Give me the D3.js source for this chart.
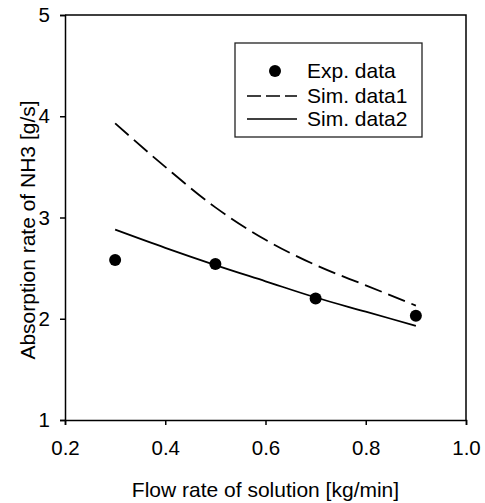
<!DOCTYPE html>
<html>
<head>
<meta charset="utf-8">
<script src="https://cdn.jsdelivr.net/npm/d3@7"></script>
<style>
  body { margin: 0; background: #fff; }
  svg { font-family: "Liberation Sans", Arial, sans-serif; }
</style>
</head>
<body>
<svg width="485" height="503"></svg>
<script>
// data
const expFlow = [0.3, 0.5, 0.7, 0.9];
const expRate = [2.58, 2.54, 2.20, 2.03];

const simFlow = [0.3, 0.4, 0.5, 0.6, 0.7, 0.8, 0.9];
const sim1 = [3.93, 3.50, 3.10, 2.78, 2.53, 2.33, 2.13];
const sim2 = [2.88, 2.70, 2.53, 2.37, 2.21, 2.07, 1.93];

const xTicks = [0.2, 0.4, 0.6, 0.8, 1.0];
const yTicks = [1, 2, 3, 4, 5];
const legendLabels = ['Exp. data', 'Sim. data1', 'Sim. data2'];

const svg = d3.select('svg');
const margin = { top: 15, right: 19, bottom: 83, left: 65 };
const W = 485, H = 503;

const x = d3.scaleLinear().domain([0.2, 1.0]).range([margin.left, W - margin.right]);
const y = d3.scaleLinear().domain([1, 5]).range([H - margin.bottom, margin.top]);

// frame (top + right)
svg.append('path')
    .attr('d', `M${x(0.2)},${y(5)}H${x(1.0)}V${y(1)}`)
    .attr('fill', 'none').attr('stroke', '#000').attr('stroke-width', 1.5);

const xAxis = svg.append('g')
    .attr('transform', `translate(0,${y(1)})`)
    .call(d3.axisBottom(x).tickValues(xTicks).tickFormat(d3.format('.1f')).tickSize(5).tickPadding(15));

const yAxis = svg.append('g')
    .attr('transform', `translate(${x(0.2)},0)`)
    .call(d3.axisLeft(y).tickValues(yTicks).tickFormat(d3.format('d')).tickSize(5).tickPadding(10));

[xAxis, yAxis].forEach(a => {
    a.select('.domain').attr('stroke-width', 1.5);
    a.selectAll('.tick line').attr('stroke-width', 1.5);
    a.selectAll('.tick text').attr('font-size', 20.5).attr('font-family', '"Liberation Sans", Arial, sans-serif').attr('fill', '#000');
});

// axis titles
svg.append('text')
    .attr('x', (x(0.2) + x(1.0)) / 2).attr('y', 497)
    .attr('text-anchor', 'middle').attr('font-size', 21)
    .text('Flow rate of solution [kg/min]');

svg.append('text')
    .attr('transform', `translate(35,230) rotate(-90)`)
    .attr('text-anchor', 'middle').attr('font-size', 21)
    .text('Absorption rate of NH3 [g/s]');

// lines
const line = d3.line().curve(d3.curveMonotoneX);

svg.append('path')
    .attr('d', line(simFlow.map((f, i) => [x(f), y(sim1[i])])))
    .attr('fill', 'none').attr('stroke', '#000').attr('stroke-width', 1.8)
    .attr('stroke-dasharray', '18,7');

svg.append('path')
    .attr('d', line(simFlow.map((f, i) => [x(f), y(sim2[i])])))
    .attr('fill', 'none').attr('stroke', '#000').attr('stroke-width', 1.8);

svg.selectAll('circle.exp').data(expFlow).enter().append('circle')
    .attr('class', 'exp')
    .attr('cx', d => x(d))
    .attr('cy', (d, i) => y(expRate[i]))
    .attr('r', 6).attr('fill', '#000');

// legend
const lg = svg.append('g');
lg.append('rect')
    .attr('x', 235).attr('y', 43).attr('width', 187).attr('height', 94)
    .attr('fill', '#fff').attr('stroke', '#222').attr('stroke-width', 1.3);

const rowY = [71, 96, 119];
lg.append('circle').attr('cx', 275).attr('cy', rowY[0]).attr('r', 6).attr('fill', '#000');
lg.append('line').attr('x1', 247).attr('x2', 297).attr('y1', rowY[1]).attr('y2', rowY[1])
    .attr('stroke', '#000').attr('stroke-width', 1.5).attr('stroke-dasharray', '14,5');
lg.append('line').attr('x1', 247).attr('x2', 297).attr('y1', rowY[2]).attr('y2', rowY[2])
    .attr('stroke', '#000').attr('stroke-width', 1.5);

lg.selectAll('text').data(legendLabels).enter().append('text')
    .attr('x', 307).attr('y', (d, i) => rowY[i])
    .attr('dy', '0.35em').attr('font-size', 21)
    .text(d => d);
</script>
</body>
</html>
